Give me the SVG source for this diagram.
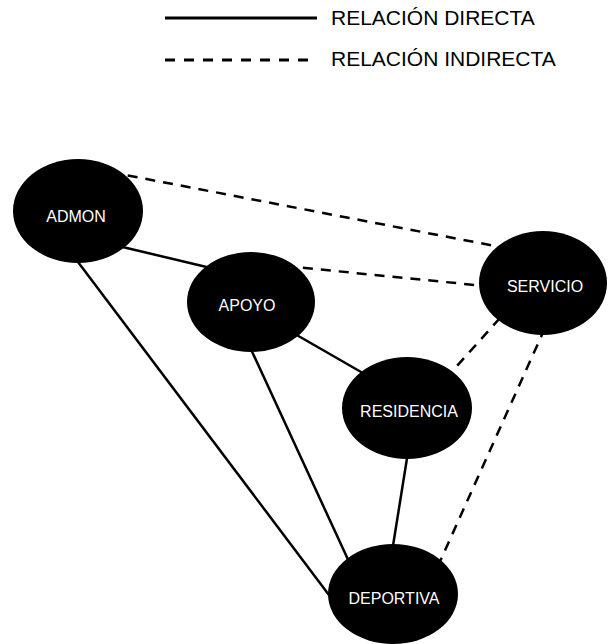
<svg xmlns="http://www.w3.org/2000/svg" width="611" height="644" viewBox="0 0 611 644">
  <style>
    .direct { stroke: #000; stroke-width: 2.5; fill: none; }
    .indirect { stroke: #000; stroke-width: 2.5; fill: none; stroke-dasharray: 10 8; }
    .key { stroke-width: 3; }
    .node ellipse { fill: #000; }
    .node text { fill: #fff; font-family: "Liberation Sans", Arial, sans-serif; font-size: 16px; text-anchor: middle; }
    .legend text { fill: #000; font-family: "Liberation Sans", Arial, sans-serif; font-size: 21px; }
  </style>
  <rect width="611" height="644" fill="#fff"/>

  <!-- legend -->
  <g id="legend" class="legend">
    <line x1="165" y1="18" x2="317" y2="18" class="direct key"/>
    <text x="331" y="25">RELACIÓN DIRECTA</text>
    <line x1="165" y1="60" x2="309" y2="60" class="indirect key" style="stroke-dasharray:10 9"/>
    <text x="331" y="66">RELACIÓN INDIRECTA</text>
  </g>

  <!-- connectors -->
  <g id="connectors">
    <line x1="110" y1="172" x2="495" y2="246" class="indirect"/>
    <line x1="285" y1="266" x2="485" y2="286" class="indirect"/>
    <line x1="500" y1="318" x2="448" y2="376" class="indirect"/>
    <line x1="545" y1="328" x2="438" y2="566" class="indirect"/>
    <line x1="110" y1="244" x2="215" y2="269" class="direct"/>
    <line x1="75" y1="258" x2="335" y2="603" class="direct"/>
    <line x1="249" y1="345" x2="351" y2="566" class="direct"/>
    <line x1="295" y1="334" x2="368" y2="376" class="direct"/>
    <line x1="408" y1="452" x2="392" y2="552" class="direct"/>
  </g>

  <!-- nodes -->
  <g id="admon" class="node">
    <ellipse cx="78" cy="211" rx="65" ry="52"/>
    <text x="76" y="222">ADMON</text>
  </g>
  <g id="apoyo" class="node">
    <ellipse cx="251" cy="302" rx="64" ry="50"/>
    <text x="247" y="311">APOYO</text>
  </g>
  <g id="servicio" class="node">
    <ellipse cx="543" cy="283" rx="64" ry="52"/>
    <text x="545" y="292">SERVICIO</text>
  </g>
  <g id="residencia" class="node">
    <ellipse cx="407" cy="408" rx="65" ry="51"/>
    <text x="409" y="417">RESIDENCIA</text>
  </g>
  <g id="deportiva" class="node">
    <ellipse cx="393" cy="594" rx="65" ry="50"/>
    <text x="394" y="604">DEPORTIVA</text>
  </g>
</svg>
